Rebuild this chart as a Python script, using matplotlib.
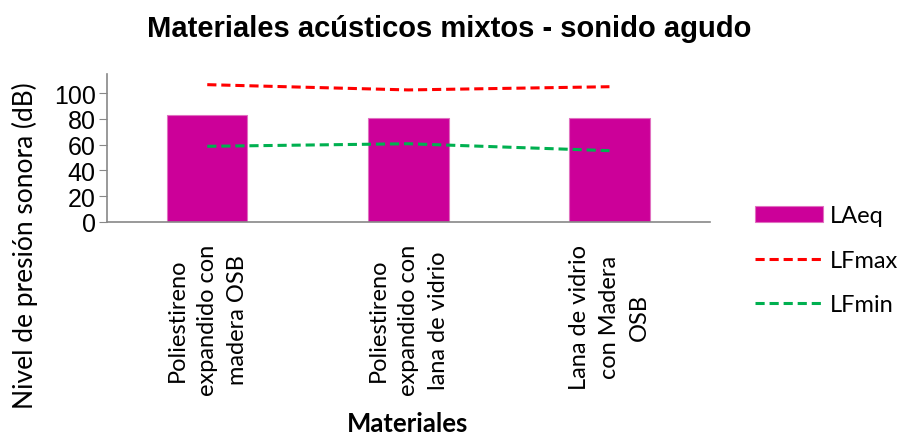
import matplotlib
matplotlib.use("Agg")
import matplotlib.pyplot as plt
import numpy as np

# datos
materiales = ["Poliestireno\nexpandido con\nmadera OSB",
              "Poliestireno\nexpandido con\nlana de vidrio",
              "Lana de vidrio\ncon Madera\nOSB"]
laeq = [83.3, 81.0, 81.0]
lfmax = [106.7, 102.6, 105.1]
lfmin = [58.7, 60.7, 55.3]

W, H = 900, 435
fig = plt.figure(figsize=(9, 4.35), dpi=100)
ax = fig.add_axes([106.7 / W, 1 - 222.7 / H, (710 - 106.7) / W, (222.7 - 75) / H])

x = np.arange(len(materiales))
b = ax.bar(x, laeq, width=0.4, color="#CC0099", edgecolor="#E070C0", linewidth=0.8, label="LAeq")
l1, = ax.plot(x, lfmax, color="#FF0000", linestyle=(0, (3, 1.6)), linewidth=2.2, label="LFmax")
l2, = ax.plot(x, lfmin, color="#00B050", linestyle=(0, (3, 1.6)), linewidth=2.2, label="LFmin")

ax.set_xlim(-0.5, 2.5)
ax.set_ylim(0, 115)
ax.set_yticks(range(0, 101, 20))
ax.set_yticklabels([str(v) for v in range(0, 101, 20)], family="Liberation Sans", fontsize=18)
ax.tick_params(axis="y", length=6, color="#888888", pad=2)
ax.set_xticks(x)
ax.set_xticklabels(materiales, rotation=90, family="Lato", fontsize=17,
                   ha="center", va="top", multialignment="center", linespacing=1.55)
ax.tick_params(axis="x", length=0, pad=16)
for s in ["top", "right"]:
    ax.spines[s].set_visible(False)
for s in ["left", "bottom"]:
    ax.spines[s].set_color("#888888")
    ax.spines[s].set_linewidth(1.2)

fig.text(449 / W, 1 - 29 / H, "Materiales acústicos mixtos - sonido agudo",
         ha="center", va="center", family="Liberation Sans", fontweight="bold", fontsize=21)
fig.text(25 / W, 1 - 246 / H, "Nivel de presión sonora (dB)", rotation=90,
         ha="center", va="center", family="Lato", fontsize=19)
fig.text(408 / W, 1 - 424 / H, "Materiales", ha="center", va="center",
         family="Lato", fontweight="bold", fontsize=18.5)

fig.legend([b, l1, l2], ["LAeq", "LFmax", "LFmin"], loc="upper left",
           bbox_to_anchor=(734 / W, 1 - 185 / H), frameon=False,
           prop={"family": "Lato", "size": 17}, handlelength=2.85, labelspacing=1.0,
           handletextpad=0.3)

fig.savefig("out.png", dpi=100)
